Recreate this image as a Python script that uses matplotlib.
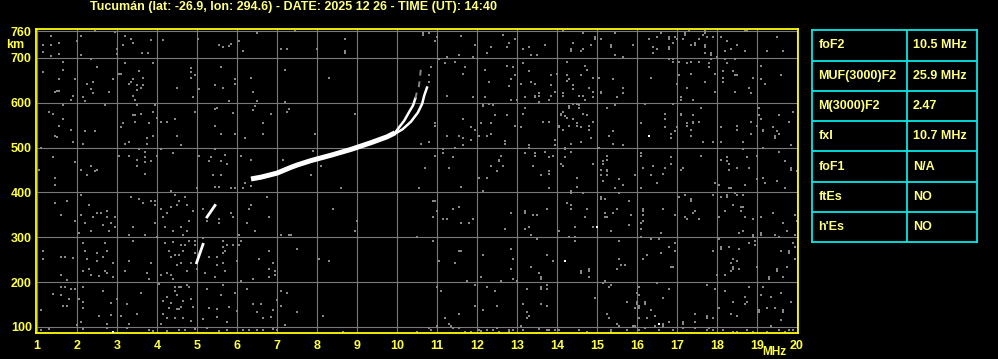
import numpy as np
import matplotlib.pyplot as plt

# ionogram echo traces: frequency (MHz), virtual height (km)
main_f = [6.35, 6.6, 7.0, 7.35, 7.5, 7.85, 8.35, 8.85, 9.35, 9.75, 9.95]
main_km = [430, 434, 443, 456, 461, 471, 483, 496, 511, 524, 533]
o_f = [9.95, 10.05, 10.18, 10.3, 10.4, 10.46]
o_km = [533, 545, 560, 579, 594, 610]
o_faint_f = [10.46, 10.5, 10.55, 10.6]
o_faint_km = [610, 625, 638, 678]
x_f = [9.95, 10.14, 10.35, 10.52, 10.63, 10.68, 10.75]
x_km = [531, 541, 558, 578, 598, 616, 634]
low1_f = [4.99, 5.15]
low1_km = [243, 284]
low2_f = [5.25, 5.45]
low2_km = [345, 371]

# scattered noise dots (MHz, km)
noise = [
    (1.35, 750), (1.35, 728), (1.15, 729), (1.15, 714), (1.35, 704), (1.55, 734), (1.55, 708),
    (2.0, 739), (2.1, 749), (2.1, 707), (2.46, 760), (2.95, 759), (3.0, 720), (3.0, 708),
    (3.15, 729), (3.2, 750), (3.35, 743), (3.4, 734), (3.63, 711), (3.78, 711), (3.85, 741),
    (4.15, 741), (5.03, 743), (5.55, 729), (5.65, 725), (5.8, 726), (5.85, 732), (6.05, 738),
    (6.15, 716), (6.5, 756), (7.1, 720), (7.25, 720),
    (1.15, 668), (1.65, 692), (1.65, 674), (1.55, 653), (1.95, 652), (1.5, 627), (1.55, 627),
    (1.45, 625), (1.9, 616), (1.85, 607), (2.15, 612), (2.2, 603), (2.25, 643), (2.35, 698),
    (2.4, 647), (2.35, 630), (2.4, 621), (2.5, 679), (2.8, 625), (2.9, 652), (3.05, 665),
    (3.1, 665), (3.2, 688), (3.3, 643), (3.35, 647), (3.4, 652), (3.55, 671), (3.65, 656),
    (3.5, 639), (3.5, 628), (3.6, 634), (3.65, 639), (3.4, 616), (3.45, 607), (3.9, 688),
    (4.5, 634), (4.85, 677), (4.85, 668), (4.85, 655), (4.95, 661), (4.9, 613), (5.05, 630),
    (5.6, 679), (5.45, 639), (5.65, 634), (5.95, 652), (5.95, 641), (5.8, 603), (6.35, 656),
    (6.4, 625), (6.5, 603), (7.2, 674), (7.2, 601),
    (1.3, 580), (1.4, 576), (1.65, 594), (1.65, 563), (1.55, 549), (1.85, 540), (1.45, 527),
    (1.5, 523), (1.9, 512), (2.2, 537), (2.45, 537), (2.7, 594), (2.15, 509), (3.15, 555),
    (3.1, 545), (3.4, 572), (3.45, 572), (3.6, 575), (3.5, 594), (3.45, 558), (3.8, 554),
    (3.9, 580), (3.95, 594), (4.0, 567), (3.75, 521), (3.75, 509), (3.9, 527), (3.3, 513),
    (3.2, 509), (4.1, 558), (4.25, 558), (4.45, 563), (4.5, 527), (4.6, 505), (4.95, 580),
    (5.45, 586), (5.5, 589), (5.9, 577), (5.45, 549), (5.6, 531), (5.95, 531), (6.2, 522),
    (6.45, 592), (6.4, 585), (6.65, 554), (6.85, 576), (6.65, 531), (7.3, 586), (7.25, 580),
    (1.1, 500), (1.4, 478), (1.05, 450), (1.45, 433), (1.95, 467), (2.1, 451), (2.35, 460),
    (2.25, 438), (2.45, 447), (2.5, 451), (3.05, 482), (3.3, 482), (3.5, 473), (3.55, 496),
    (3.7, 491), (3.7, 478), (3.7, 467), (3.85, 469), (3.5, 460), (3.7, 442), (4.0, 482),
    (4.1, 496), (4.4, 487), (5.05, 482), (5.35, 478), (5.3, 470), (5.45, 496), (5.6, 469),
    (5.7, 484), (5.75, 464), (5.4, 438), (5.6, 438), (6.1, 482), (6.35, 473), (7.15, 473),
    (1.45, 416), (5.45, 412), (5.55, 412), (5.85, 410), (5.95, 410), (6.15, 410), (6.2, 421),
    (6.35, 415), (5.0, 409), (4.35, 403),
    (1.45, 376), (1.75, 380), (1.6, 349), (1.95, 336), (2.1, 394), (2.1, 349), (2.3, 371),
    (2.2, 331), (2.4, 345), (2.5, 354), (2.6, 354), (2.75, 358), (2.75, 345), (2.65, 327),
    (2.85, 331), (2.95, 345), (2.95, 322), (2.35, 313), (2.05, 309), (2.8, 313), (3.35, 389),
    (3.55, 385), (3.65, 376), (3.85, 380), (3.95, 380), (3.95, 371), (3.95, 331), (3.4, 322),
    (3.3, 304), (3.7, 304), (4.1, 362), (4.25, 354), (4.15, 345), (4.35, 367), (4.45, 394),
    (4.5, 371), (4.55, 380), (4.75, 371), (4.7, 389), (4.9, 358), (4.8, 336), (4.2, 322),
    (4.4, 313), (4.6, 322), (4.75, 313), (4.65, 304), (5.15, 362), (5.25, 336), (5.55, 340),
    (5.55, 331), (5.85, 354), (5.9, 345), (6.05, 304), (6.25, 331), (6.3, 362), (6.35, 371),
    (6.45, 313), (6.75, 389), (6.8, 345), (7.1, 304), (7.3, 304),
    (1.15, 269), (1.15, 251), (1.6, 255), (1.7, 255), (1.9, 254), (1.6, 215), (1.75, 205),
    (2.15, 287), (2.2, 269), (2.25, 251), (2.15, 224), (2.3, 229), (2.35, 215), (2.5, 264),
    (2.5, 246), (2.65, 255), (2.7, 287), (2.75, 269), (2.7, 224), (2.75, 220), (2.55, 214),
    (2.9, 242), (2.9, 211), (3.4, 291), (3.2, 224), (3.3, 246), (3.75, 220), (3.8, 206),
    (3.85, 242), (4.0, 300), (4.2, 287), (4.4, 290), (4.3, 269), (4.35, 255), (4.45, 260),
    (4.55, 260), (4.6, 282), (4.7, 282), (4.65, 269), (4.8, 291), (4.95, 291), (4.95, 282),
    (4.6, 242), (4.5, 238), (4.85, 242), (4.1, 215), (4.25, 220), (4.35, 215), (4.4, 206),
    (4.75, 224), (4.95, 264), (5.15, 299), (5.2, 220), (5.0, 229), (5.5, 255), (5.65, 291),
    (5.65, 278), (5.65, 264), (5.75, 282), (5.7, 269), (5.9, 282), (6.0, 246), (5.65, 242),
    (5.5, 238), (5.3, 255), (5.45, 211), (5.7, 224), (6.1, 291), (6.05, 282), (6.4, 206),
    (6.55, 251), (6.8, 269), (6.9, 242), (6.8, 229), (6.95, 224), (6.95, 215), (6.8, 211),
    (6.1, 202),
    (1.4, 173), (1.6, 188), (1.7, 188), (1.6, 171), (1.85, 184), (1.95, 184), (1.8, 162),
    (1.65, 147), (1.75, 147), (1.1, 138), (2.15, 188), (2.05, 162), (2.15, 156), (2.15, 142),
    (2.65, 180), (2.85, 153), (2.85, 126), (2.55, 124), (2.75, 107), (2.1, 111), (2.0, 105),
    (3.0, 162), (3.25, 151), (3.1, 124), (3.3, 107), (3.5, 129), (3.6, 175), (4.05, 196),
    (4.15, 157), (4.25, 166), (4.3, 142), (4.15, 129), (4.25, 120), (4.1, 107), (4.45, 188),
    (4.55, 188), (4.6, 188), (4.45, 180), (4.5, 171), (4.35, 153), (4.5, 139), (4.55, 139),
    (4.6, 144), (4.65, 157), (4.85, 162), (4.9, 145), (4.75, 193), (4.8, 188), (4.45, 120),
    (4.65, 120), (4.85, 113), (5.15, 118), (5.25, 184), (5.3, 142), (5.5, 139), (5.5, 121),
    (5.6, 171), (5.65, 193), (5.8, 144), (5.75, 111), (5.95, 175), (6.0, 135), (6.25, 184),
    (6.4, 151), (6.6, 151), (6.5, 133), (6.85, 121), (6.9, 138), (7.0, 160), (7.1, 180),
    (7.25, 175), (7.1, 147), (6.65, 120), (7.2, 105),
    (1.1, 93), (1.3, 95), (2.15, 95), (2.75, 98), (3.25, 98), (3.8, 92), (3.9, 90), (4.25, 90),
    (4.55, 93), (4.7, 93), (4.95, 95), (5.25, 98), (5.55, 90), (5.75, 92), (6.15, 92),
    (6.3, 92), (6.5, 92), (6.65, 92), (6.9, 95), (7.0, 92), (7.2, 104),
    (8.6, 409), (10.55, 409), (11.6, 412), (12.15, 403), (8.4, 362), (9.0, 336), (8.95, 313),
    (10.5, 300), (7.35, 304), (10.9, 380), (10.95, 380), (11.0, 358), (10.9, 345), (11.15, 340),
    (11.25, 340), (11.4, 362), (11.55, 367), (11.6, 331), (11.8, 331), (11.9, 340), (12.85, 354),
    (13.2, 358), (13.2, 354), (13.4, 349), (13.5, 349), (12.7, 318), (13.2, 318), (13.3, 322),
    (13.35, 304), (13.5, 296), (7.5, 273), (8.05, 251), (8.3, 246), (10.9, 291), (11.55, 269),
    (11.6, 269), (11.05, 246), (11.45, 242), (12.15, 260), (12.85, 273), (12.9, 251),
    (12.85, 229), (12.9, 206), (13.35, 233), (13.55, 220), (13.6, 211), (13.6, 206), (12.1, 211),
    (11.75, 202), (12.6, 202), (13.0, 202), (11.0, 188), (11.1, 180), (11.95, 193), (12.25, 188),
    (12.45, 180), (13.25, 184), (13.6, 188), (13.6, 184), (7.5, 133), (8.15, 124), (11.95, 147),
    (12.15, 138), (12.5, 147), (11.55, 129), (11.2, 120), (13.15, 151), (13.25, 133),
    (13.3, 124), (13.25, 120), (13.6, 151), (11.3, 107), (11.35, 102), (11.0, 102), (13.1, 102),
    (8.65, 89), (10.5, 89), (10.8, 98), (10.85, 93), (11.4, 98), (11.55, 98), (11.7, 89),
    (11.85, 89), (12.05, 93), (12.1, 90), (12.25, 93), (12.4, 93), (12.5, 98), (12.55, 89),
    (12.8, 93), (12.8, 89), (12.9, 93), (13.15, 93), (13.55, 95),
    (7.45, 760), (8.7, 743), (8.7, 716), (8.7, 711), (8.0, 720), (8.3, 656), (8.95, 576),
    (7.95, 531), (7.9, 493), (8.1, 460), (7.85, 438), (10.65, 756), (10.65, 752), (10.8, 756),
    (10.95, 738), (11.0, 747), (11.6, 749), (11.95, 729), (11.25, 702), (11.55, 707),
    (11.9, 702), (12.25, 711), (12.35, 725), (12.65, 752), (12.8, 734), (12.75, 725),
    (12.95, 743), (13.15, 720), (13.3, 725), (13.35, 707), (13.5, 707), (13.7, 729),
    (11.05, 698), (11.2, 688), (11.45, 692), (11.7, 679), (11.65, 665), (12.2, 674), (12.3, 647),
    (12.75, 683), (12.9, 679), (12.95, 661), (12.85, 652), (12.8, 638), (13.1, 643),
    (13.15, 688), (13.3, 670), (13.35, 647), (13.45, 643), (13.55, 621), (13.55, 616),
    (13.45, 616), (13.45, 612), (13.2, 612), (12.85, 607), (13.0, 607), (13.55, 601),
    (10.85, 680), (10.8, 661), (10.8, 647), (11.25, 616), (11.9, 612), (12.2, 612), (12.15, 595),
    (12.15, 592), (12.4, 594), (12.45, 572), (12.3, 597), (12.75, 572), (13.2, 589),
    (13.15, 576), (13.65, 558), (11.65, 563), (11.85, 545), (11.95, 540), (12.1, 554),
    (12.35, 554), (12.35, 531), (12.25, 527), (12.05, 527), (11.85, 518), (11.65, 522),
    (11.55, 527), (11.25, 527), (10.95, 554), (10.95, 549), (12.7, 514), (12.7, 509),
    (12.95, 549), (13.1, 545), (13.3, 505), (13.3, 500), (13.2, 487), (13.45, 487), (13.45, 482),
    (10.6, 509), (10.8, 513), (11.15, 496), (11.15, 487), (11.45, 500), (11.65, 505),
    (10.95, 482), (11.4, 478), (11.3, 455), (10.7, 455), (12.35, 460), (12.6, 482), (12.55, 473),
    (12.55, 469), (12.5, 447), (12.65, 460), (12.05, 433), (12.25, 433), (13.4, 460), (13.6, 438),
    (14.15, 760), (14.65, 756), (15.45, 756), (14.95, 747), (14.95, 743), (15.1, 743),
    (14.4, 734), (14.85, 729), (14.35, 720), (14.35, 716), (14.6, 716), (14.65, 720),
    (15.35, 729), (15.35, 725), (15.9, 729), (15.45, 707), (15.65, 702), (16.3, 743),
    (16.5, 747), (16.6, 756), (16.8, 747), (16.8, 743), (16.95, 747), (17.0, 743), (16.4, 725),
    (16.4, 711), (16.5, 720), (16.8, 725), (16.8, 720), (16.9, 734), (17.15, 743), (17.2, 756),
    (17.2, 752), (17.3, 760), (17.35, 729), (17.45, 734), (17.45, 729), (17.55, 743),
    (17.65, 752), (17.7, 760), (17.7, 756), (17.7, 729), (17.7, 725), (17.75, 747), (17.7, 711),
    (17.85, 711), (17.85, 707), (18.0, 702), (17.9, 747), (18.1, 747), (18.25, 738),
    (18.2, 716), (18.35, 720), (18.5, 729), (18.7, 716), (18.7, 760), (18.75, 760),
    (19.25, 716), (19.5, 747), (19.65, 716),
    (14.25, 690), (13.85, 661), (14.0, 665), (14.25, 661), (14.25, 649), (14.3, 652), (14.7, 683),
    (14.75, 674), (14.6, 661), (14.9, 656), (13.85, 639), (13.95, 625), (13.8, 607), (13.85, 616),
    (14.15, 621), (14.15, 616), (14.4, 639), (14.4, 630), (14.55, 616), (14.65, 616), (14.7, 607),
    (14.8, 634), (14.9, 625), (14.9, 612), (15.05, 656), (15.1, 625), (15.1, 621), (15.4, 652),
    (15.65, 634), (15.65, 621), (15.5, 612), (16.35, 656), (16.8, 698), (16.9, 698), (16.9, 692),
    (17.05, 692), (17.25, 688), (17.35, 692), (17.0, 643), (17.05, 661), (17.25, 634),
    (17.35, 665), (17.55, 692), (17.7, 647), (17.8, 688), (17.8, 679), (17.95, 665), (17.85, 698),
    (17.1, 612), (17.1, 607), (17.4, 607), (17.95, 625), (18.2, 697), (18.25, 688), (18.45, 697),
    (18.15, 670), (18.15, 656), (18.15, 647), (18.4, 670), (18.45, 661), (18.5, 661),
    (18.45, 625), (18.8, 634), (18.85, 621), (18.9, 656), (19.1, 683), (19.1, 652), (19.2, 643),
    (19.6, 661),
    (13.8, 558), (14.05, 549), (14.05, 545), (14.1, 576), (14.1, 572), (14.15, 580), (14.2, 570),
    (14.25, 567), (14.3, 592), (14.3, 589), (14.4, 597), (14.5, 598), (14.55, 594), (14.55, 589),
    (14.4, 563), (14.5, 554), (14.5, 549), (14.3, 549), (14.15, 540), (14.6, 545), (14.65, 576),
    (14.75, 572), (14.8, 549), (14.8, 540), (14.9, 558), (14.85, 522), (14.6, 513), (14.35, 509),
    (13.95, 518), (15.25, 589), (15.45, 594), (15.4, 536), (15.3, 527), (15.4, 509), (16.1, 554),
    (16.2, 598), (16.7, 576), (16.7, 563), (16.7, 545), (16.85, 531), (16.85, 522), (16.95, 536),
    (17.0, 545), (16.9, 598), (17.1, 576), (17.1, 572), (17.25, 554), (17.25, 549), (17.4, 558),
    (17.4, 554), (17.4, 572), (17.35, 540), (17.35, 527), (17.6, 589), (17.55, 558),
    (17.65, 513), (17.9, 513), (18.1, 545), (18.1, 513), (18.5, 549), (18.5, 540), (18.85, 558),
    (18.85, 531), (18.65, 513), (19.0, 549), (19.05, 589), (19.05, 572), (19.1, 563),
    (19.15, 540), (19.15, 536), (19.4, 545), (19.45, 527), (19.45, 522), (19.5, 536),
    (19.55, 531), (19.55, 572), (19.8, 558), (19.9, 580), (19.85, 505),
    (13.7, 491), (13.8, 478), (13.9, 482), (13.95, 505), (14.2, 500), (14.2, 496), (14.35, 491),
    (14.2, 478), (14.1, 464), (14.15, 460), (13.8, 447), (13.8, 442), (14.5, 433), (14.9, 464),
    (15.05, 500), (15.25, 482), (15.25, 473), (15.15, 469), (15.15, 464), (15.25, 451),
    (15.25, 447), (15.1, 438), (15.25, 438), (15.1, 451), (15.55, 429), (15.95, 438),
    (15.65, 505), (16.1, 487), (16.1, 482), (16.15, 455), (16.35, 438), (16.4, 460),
    (16.65, 442), (16.7, 455), (16.85, 478), (16.85, 464), (17.1, 451), (17.15, 455), (17.6, 482),
    (18.1, 473), (18.25, 478), (18.25, 469), (18.3, 464), (18.3, 451), (18.5, 455), (18.75, 478),
    (18.65, 496), (18.8, 455), (19.0, 482), (19.0, 429), (19.15, 500), (19.15, 433), (19.55, 491),
    (19.7, 469), (19.85, 455), (19.85, 451), (20.0, 447),
    (13.8, 409), (14.35, 403), (14.35, 398), (14.5, 412), (14.65, 398), (15.15, 425), (15.45, 409),
    (15.55, 398), (15.65, 416), (16.1, 409), (16.5, 421), (17.95, 421), (18.05, 416), (18.3, 409),
    (18.35, 409), (18.7, 416), (19.2, 421), (19.5, 425), (19.7, 409), (13.75, 362), (14.25, 376),
    (14.35, 371), (14.35, 362), (14.7, 345), (14.75, 362), (14.45, 322), (14.05, 313),
    (14.3, 300), (14.45, 300), (14.45, 291), (14.9, 322), (15.1, 389), (15.1, 385), (15.2, 385),
    (15.2, 354), (15.2, 345), (15.25, 345), (15.4, 354), (15.5, 362), (15.8, 380), (15.85, 349),
    (15.8, 327), (15.35, 313), (16.15, 362), (16.15, 358), (16.15, 349), (16.1, 331),
    (16.15, 336), (16.1, 318), (16.1, 300), (16.65, 362), (16.6, 309), (16.95, 349), (17.05, 389),
    (17.2, 394), (17.35, 385), (17.35, 380), (17.2, 345), (17.25, 340), (17.4, 354), (17.45, 358),
    (17.55, 340), (17.9, 394), (18.1, 389), (18.25, 394), (18.25, 389), (18.45, 398), (18.5, 394),
    (18.65, 394), (18.4, 371), (18.6, 367), (18.65, 367), (18.2, 358), (18.6, 358), (18.05, 345),
    (18.7, 345), (18.9, 340), (18.55, 309), (18.65, 313), (19.1, 345), (19.4, 354), (19.65, 331),
    (19.75, 313), (19.95, 349), (20.0, 336), (19.1, 309), (19.1, 304), (18.9, 304), (18.9, 300),
    (19.45, 304), (19.55, 300), (19.95, 304),
    (13.75, 260), (13.9, 246), (14.6, 224), (14.6, 220), (14.8, 229), (14.8, 224), (14.8, 211),
    (15.55, 291), (15.55, 251), (15.6, 238), (15.7, 238), (15.5, 229), (15.2, 202), (15.15, 197),
    (16.15, 251), (16.25, 260), (16.35, 296), (16.55, 296), (16.6, 264), (16.8, 278),
    (16.95, 287), (16.95, 269), (16.85, 233), (16.9, 233), (18.05, 296), (17.9, 269), (18.1, 278),
    (18.1, 273), (18.3, 278), (18.55, 273), (18.4, 251), (18.35, 242), (18.4, 233), (18.4, 229),
    (18.35, 224), (18.5, 246), (18.55, 229), (18.2, 215), (18.0, 215), (18.8, 287), (18.95, 291),
    (18.95, 282), (19.0, 233), (19.3, 211), (19.3, 206), (19.5, 229), (19.5, 224), (19.65, 211),
    (19.75, 233), (19.6, 269), (19.8, 269), (19.8, 264), (19.95, 278), (19.9, 287), (19.95, 251),
    (13.75, 193), (13.75, 184), (13.75, 147), (14.95, 165), (15.35, 193), (15.3, 188),
    (15.75, 156), (15.25, 129), (15.3, 120), (15.5, 107), (15.55, 102), (16.05, 188),
    (16.05, 171), (16.0, 175), (16.0, 156), (16.0, 151), (16.05, 147), (16.05, 142), (15.95, 142),
    (16.2, 156), (16.2, 151), (16.35, 138), (16.45, 124), (16.25, 120), (16.05, 120), (16.5, 197),
    (16.8, 184), (16.65, 165), (16.65, 107), (16.65, 102), (16.8, 111), (17.15, 111),
    (17.15, 107), (17.45, 129), (17.45, 111), (17.75, 193), (17.95, 184), (18.2, 180),
    (18.05, 142), (17.75, 124), (17.75, 120), (17.9, 120), (18.35, 129), (18.4, 156), (18.5, 124),
    (18.7, 166), (18.75, 156), (18.7, 151), (18.8, 188), (19.1, 171), (19.15, 188), (19.25, 142),
    (19.35, 166), (19.45, 142), (19.6, 175), (19.65, 138), (19.65, 133), (19.6, 115),
    (19.05, 138), (19.05, 133), (19.35, 102), (19.85, 156),
    (13.75, 93), (13.8, 93), (13.95, 93), (14.05, 93), (14.55, 93), (14.75, 89), (15.35, 93),
    (15.35, 89), (15.75, 93), (15.9, 102), (15.95, 102), (16.05, 93), (16.2, 98), (16.45, 102),
    (16.55, 93), (16.9, 93), (17.15, 98), (17.45, 98), (17.75, 93), (17.8, 98), (17.9, 93),
    (18.15, 93), (18.4, 89), (18.5, 89), (18.75, 93), (18.9, 89), (19.25, 89), (19.55, 93),
    (19.7, 89), (19.8, 93), (19.9, 93),
]
white_dots = [(16.3, 527), (15.0, 322), (14.2, 246), (16.55, 107), (2.9, 89)]

freq_ticks = list(range(1, 21))
height_ticks = [100, 200, 300, 400, 500, 600, 700, 760]

params = ["foF2", "MUF(3000)F2", "M(3000)F2", "fxI", "foF1", "ftEs", "h'Es"]
values = ["10.5 MHz", "25.9 MHz", "2.47", "10.7 MHz", "N/A", "NO", "NO"]

title = "Tucumán (lat: -26.9, lon: 294.6) - DATE: 2025 12 26 - TIME (UT): 14:40"

plt.rcParams['font.family'] = ['Liberation Sans', 'DejaVu Sans']
plt.rcParams['font.weight'] = 'bold'

W, H = 998, 359
fig = plt.figure(figsize=(W / 100, H / 100), dpi=100, facecolor='black')
ax = fig.add_axes([36 / W, 26 / H, 762 / W, 304 / H])
ax.set_facecolor('black')

nf, nk = np.array(noise).T
ax.scatter(nf, nk, s=2.6, marker='s', color='#888888', linewidths=0, zorder=2)

ax.plot(main_f, main_km, color='white', lw=3.6, solid_capstyle='butt', zorder=3)
ax.plot(o_f, o_km, color='white', lw=1.8, zorder=3)
ax.plot(x_f, x_km, color='white', lw=1.8, zorder=3)
ax.plot(o_faint_f, o_faint_km, color='#888888', lw=1.4, ls=(0, (3, 3)), zorder=3)
ax.plot(low1_f, low1_km, color='white', lw=2.0, zorder=3)
ax.plot(low2_f, low2_km, color='white', lw=2.0, zorder=3)
wf, wk = np.array(white_dots).T
ax.scatter(wf, wk, s=3, marker='s', color='white', linewidths=0, zorder=3)

ax.set_xlim(0.975, 20.025)
ax.set_ylim(86.2, 764.7)
ax.set_xticks(freq_ticks)
ax.set_yticks(height_ticks)
ax.grid(True, color='#7a7a7a', lw=0.8, zorder=1)
ax.set_axisbelow(True)
for s in ax.spines.values():
    s.set_color('#ffff00')
    s.set_linewidth(1.3)
ax.tick_params(length=0, labelcolor='#ffff40', labelsize=9)
ax.tick_params(axis='x', pad=5)
ax.tick_params(axis='y', pad=3)

fig.text(90 / W, 1 - 7 / H, title, color='#ffff80', fontsize=9,
         fontweight='bold', ha='left', va='center')
fig.text(6 / W, 1 - 45 / H, "km", color='#ffff40', fontsize=9,
         fontweight='bold', ha='left', va='center')
fig.text(774 / W, 1 - 352 / H, "MHz", color='#ffff40', fontsize=8.6,
         fontweight='bold', ha='center', va='center')

# parameter table
tax = fig.add_axes([812.3 / W, 1 - 242.3 / H, 165 / W, 212 / H])
tax.set_facecolor('black')
tax.set_xlim(0, 165)
tax.set_ylim(len(params), 0)
tax.set_xticks([])
tax.set_yticks([])
for s in tax.spines.values():
    s.set_color('#00e8e8')
    s.set_linewidth(1.3)
tax.hlines(range(1, len(params)), 0, 165, color='#00e8e8', lw=1.3)
tax.vlines(95, 0, len(params), color='#00e8e8', lw=1.3)
for i, (p, v) in enumerate(zip(params, values)):
    tax.text(6, i + 0.5, p, color='#ffff80', fontsize=9, fontweight='bold', va='center')
    tax.text(100.5, i + 0.5, v, color='#ffff80', fontsize=9, fontweight='bold', va='center')

fig.savefig('out.png', dpi=100, facecolor='black')
